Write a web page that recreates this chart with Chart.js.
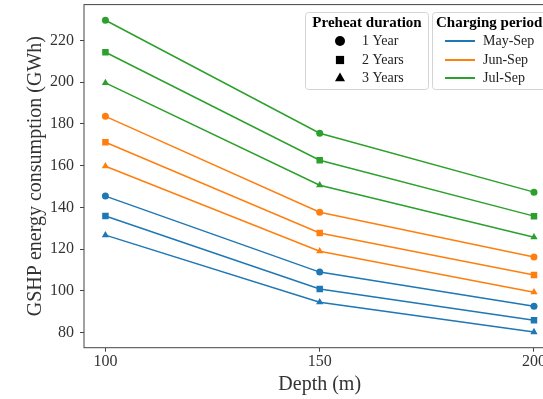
<!DOCTYPE html>
<html lang="en">
<head>
<meta charset="UTF-8">
<title>GSHP energy consumption</title>
<style>
  * { margin: 0; padding: 0; box-sizing: border-box; }
  html, body { width: 543px; height: 399px; overflow: hidden; background: #fff; }
  .wrap { width: 560px; height: 399px; }
</style>
</head>
<body>
<div class="wrap"><canvas id="chart"></canvas></div>
<script src="https://cdn.jsdelivr.net/npm/chart.js@4/dist/chart.umd.min.js"></script>
<script>
// Data
const depths = [100, 150, 200];
const periods = ['May-Sep', 'Jun-Sep', 'Jul-Sep'];
const periodColors = ['#1f77b4', '#ff7f0e', '#2ca02c'];
const durations = ['1 Year', '2 Years', '3 Years'];
const durationMarkers = ['circle', 'rect', 'triangle'];
const markerRadius = [3.5, 4.6, 4.2];
const legendMarkerRadius = [5, 5.8, 5.6];

// GSHP energy (GWh) by period, rows = preheat duration
const maySep = [
  [145.4, 109.0, 92.7],
  [135.9, 100.9, 86.0],
  [126.7, 94.6, 80.3]
];
const junSep = [
  [183.6, 137.7, 116.2],
  [171.2, 127.7, 107.6],
  [159.7, 119.0, 99.4]
];
const julSep = [
  [229.6, 175.5, 147.3],
  [214.3, 162.6, 135.8],
  [199.6, 150.6, 125.7]
];
const seriesByPeriod = [maySep, junSep, julSep];

const yTicks = [80, 100, 120, 140, 160, 180, 200, 220];
const xTicks = [100, 150, 200];

Chart.defaults.font.family = '"Liberation Serif", "DejaVu Serif", serif';
Chart.defaults.color = '#333';

const datasets = [];
seriesByPeriod.forEach((rows, p) => {
  rows.forEach((vals, d) => {
    datasets.push({
      label: periods[p] + ' / ' + durations[d],
      data: vals.map((v, i) => ({ x: depths[i], y: v })),
      borderColor: periodColors[p],
      backgroundColor: periodColors[p],
      borderWidth: 1.5,
      pointStyle: durationMarkers[d],
      pointRadius: markerRadius[d],
      pointBorderWidth: 0,
      tension: 0
    });
  });
});

function marker(ctx, style, x, y, r) {
  ctx.beginPath();
  if (style === 'circle') {
    ctx.arc(x, y, r, 0, Math.PI * 2);
  } else if (style === 'rect') {
    const s = r * Math.SQRT1_2;
    ctx.rect(x - s, y - s, 2 * s, 2 * s);
  } else {
    ctx.moveTo(x, y - r);
    ctx.lineTo(x + r * 0.9, y + r * 0.6);
    ctx.lineTo(x - r * 0.9, y + r * 0.6);
    ctx.closePath();
  }
  ctx.fill();
}

function roundBox(ctx, x, y, w, h) {
  ctx.beginPath();
  ctx.roundRect(x, y, w, h, 3);
  ctx.fillStyle = 'rgba(255,255,255,0.85)';
  ctx.fill();
  ctx.strokeStyle = '#d4d4d4';
  ctx.lineWidth = 1;
  ctx.stroke();
}

// drop the extra room Chart.js keeps for half-labels at the axis ends
function noEndPadding(s) {
  s.paddingTop = 0;
  s.paddingBottom = 0;
  s.paddingLeft = 0;
  s.paddingRight = 0;
}

const framePlugin = {
  id: 'frame',
  afterDatasetsDraw(chart) {
    const { ctx, chartArea: a } = chart;
    ctx.save();
    ctx.strokeStyle = '#444';
    ctx.lineWidth = 1;
    ctx.strokeRect(a.left, a.top, a.right - a.left, a.bottom - a.top);
    ctx.restore();
  }
};

const legendPlugin = {
  id: 'twoLegends',
  afterDraw(chart) {
    const ctx = chart.ctx;
    const rowsY = [41, 60, 78];
    ctx.save();
    roundBox(ctx, 305.5, 12.5, 123, 77);
    roundBox(ctx, 432.5, 12.5, 140, 77);
    ctx.fillStyle = '#000';
    ctx.textBaseline = 'middle';
    ctx.font = 'bold 15px "Liberation Serif", serif';
    ctx.textAlign = 'center';
    ctx.fillText('Preheat duration', 367, 23);
    ctx.textAlign = 'left';
    ctx.fillText('Charging period', 436, 23);
    ctx.font = '14px "Liberation Serif", serif';
    durations.forEach((lab, i) => {
      ctx.fillStyle = '#000';
      marker(ctx, durationMarkers[i], 340, rowsY[i], legendMarkerRadius[i]);
      ctx.fillStyle = '#222';
      ctx.fillText(lab, 362, rowsY[i]);
    });
    periods.forEach((lab, i) => {
      ctx.strokeStyle = periodColors[i];
      ctx.lineWidth = 2;
      ctx.beginPath();
      ctx.moveTo(445, rowsY[i]);
      ctx.lineTo(475, rowsY[i]);
      ctx.stroke();
      ctx.fillStyle = '#222';
      ctx.fillText(lab, 483, rowsY[i]);
    });
    ctx.restore();
  }
};

new Chart(document.getElementById('chart'), {
  type: 'line',
  data: { datasets },
  options: {
    responsive: true,
    maintainAspectRatio: false,
    animation: false,
    layout: { padding: { top: 4.5, right: 4, left: 0, bottom: 0 } },
    plugins: { legend: { display: false }, tooltip: { enabled: false } },
    scales: {
      x: {
        type: 'linear',
        min: 95,
        max: 205,
        afterBuildTicks: s => { s.ticks = xTicks.map(v => ({ value: v })); },
        afterFit: s => { s.height = 51.3; noEndPadding(s); },
        ticks: { font: { size: 16 }, color: '#333', padding: 0 },
        grid: { drawOnChartArea: false, tickLength: 4, color: '#444' },
        border: { display: false },
        title: { display: true, text: 'Depth (m)', font: { size: 20 }, color: '#333', padding: { top: 0, bottom: 2 } }
      },
      y: {
        type: 'linear',
        min: 72.8,
        max: 237.1,
        afterBuildTicks: s => { s.ticks = yTicks.map(v => ({ value: v })); },
        afterFit: s => { s.width = 84; noEndPadding(s); },
        ticks: { font: { size: 16 }, color: '#333', padding: 6 },
        grid: { drawOnChartArea: false, tickLength: 4, color: '#444' },
        border: { display: false },
        title: { display: true, text: 'GSHP energy consumption (GWh)', font: { size: 20 }, color: '#333', padding: { top: 24, bottom: 0 } }
      }
    }
  },
  plugins: [framePlugin, legendPlugin]
});
</script>
</body>
</html>
